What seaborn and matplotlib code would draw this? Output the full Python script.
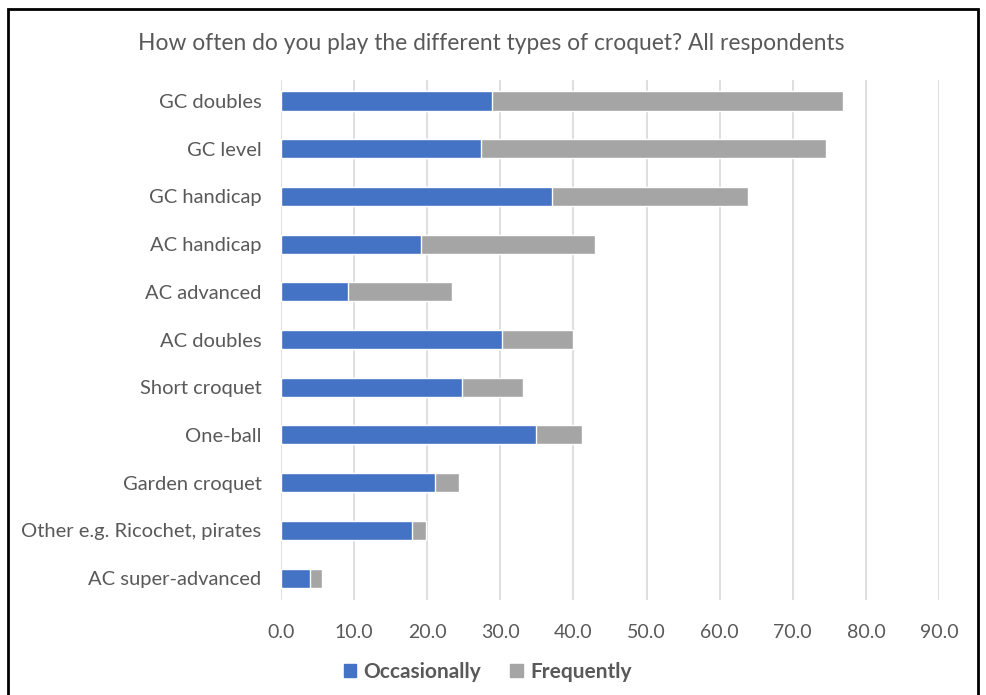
"""
Stacked horizontal bar chart: how often croquet types are played.
"""

import matplotlib.pyplot as plt
import pandas as pd
import seaborn as sns
from matplotlib.patches import Patch, Rectangle

categories = [
    "GC doubles",
    "GC level",
    "GC handicap",
    "AC handicap",
    "AC advanced",
    "AC doubles",
    "Short croquet",
    "One-ball",
    "Garden croquet",
    "Other e.g. Ricochet, pirates",
    "AC super-advanced",
]
occasionally = [28.9, 27.3, 37.0, 19.1, 9.1, 30.2, 24.7, 34.9, 21.0, 17.9, 3.9]
frequently = [48.0, 47.2, 26.9, 23.8, 14.3, 9.7, 8.4, 6.3, 3.4, 2.0, 1.7]

BLUE = "#4472C4"
GREY = "#A5A5A5"
TEXT = "#595959"


def make_chart():
    df = pd.DataFrame(
        {"type": categories, "Occasionally": occasionally, "Frequently": frequently}
    )
    df["total"] = df["Occasionally"] + df["Frequently"]

    sns.set_style("white")
    plt.rcParams["font.family"] = ["Lato", "DejaVu Sans"]

    fig = plt.figure(figsize=(9.87, 6.95), dpi=100)
    ax = fig.add_axes([0.2847, 0.1367, 0.6667, 0.7482])

    sns.barplot(data=df, x="total", y="type", color=GREY, width=0.4,
                saturation=1, ax=ax, zorder=3)
    sns.barplot(data=df, x="Occasionally", y="type", color=BLUE, width=0.4,
                saturation=1, ax=ax, zorder=4)

    ax.set_xlim(0, 90)
    ax.set_ylim(10.46, -0.44)
    ax.set_xticks(range(0, 91, 10))
    ax.set_xticklabels([f"{v:.1f}" for v in range(0, 91, 10)])
    ax.grid(axis="x", color="#D9D9D9", linewidth=1.2, zorder=0)
    ax.set_axisbelow(True)
    for s in ax.spines.values():
        s.set_visible(False)
    ax.set_xlabel("")
    ax.set_ylabel("")
    ax.tick_params(axis="x", length=0, pad=17, labelsize=14, labelcolor=TEXT)
    ax.tick_params(axis="y", length=0, pad=14, labelsize=14.5, labelcolor=TEXT)

    fig.text(0.4975, 0.938, "How often do you play the different types of croquet? All respondents",
             ha="center", va="center", fontsize=16.4, color=TEXT)

    handles = [Patch(color=BLUE, label="Occasionally"),
               Patch(color=GREY, label="Frequently")]
    leg = fig.legend(handles=handles, loc="center", bbox_to_anchor=(0.494, 0.033),
                     ncol=2, frameon=False, handlelength=0.6, handleheight=0.6,
                     handletextpad=0.35, columnspacing=1.4,
                     prop={"size": 15, "weight": "bold"})
    for t in leg.get_texts():
        t.set_color(TEXT)

    fig.patches.append(Rectangle((0.008, -0.02), 0.983, 1.007, transform=fig.transFigure,
                                 fill=False, edgecolor="black", linewidth=2))

    fig.savefig("out.png", dpi=100, facecolor="white")


if __name__ == "__main__":
    make_chart()
